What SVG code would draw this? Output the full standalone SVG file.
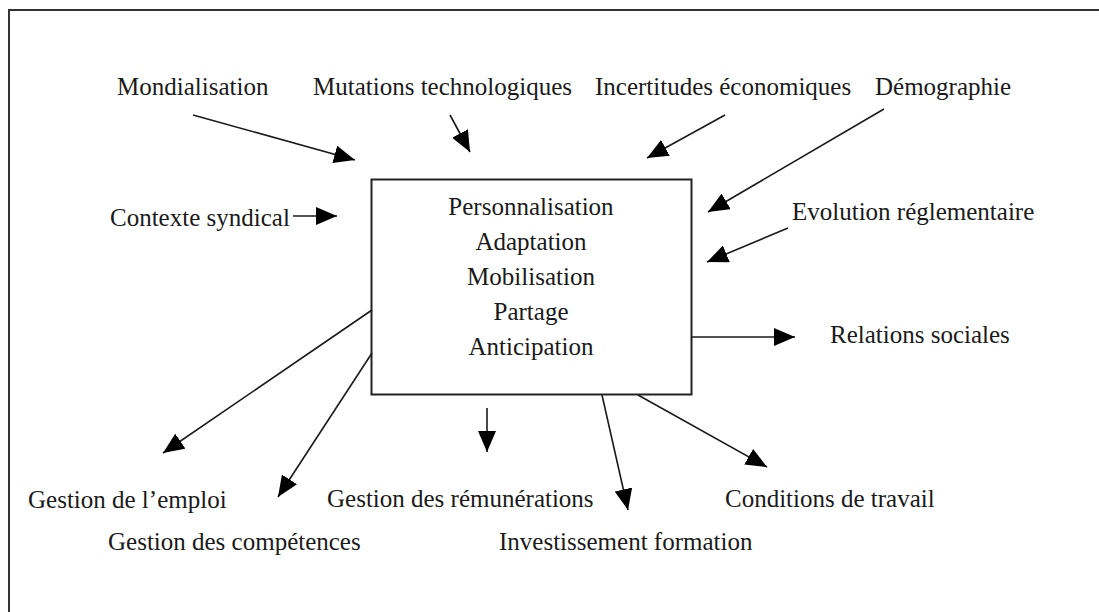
<svg xmlns="http://www.w3.org/2000/svg" width="1099" height="612" viewBox="0 0 1099 612">
<style>
text{font-family:"Liberation Serif","Times New Roman",serif;font-size:25px;fill:#1a1a1a}
.c{text-anchor:middle}
.ln{stroke:#1a1a1a;stroke-width:1.6;fill:none}
.fr{stroke:#333;stroke-width:2;fill:none}
</style>
<defs>
<marker id="ah" markerUnits="userSpaceOnUse" viewBox="0 0 21 18" markerWidth="21" markerHeight="18" refX="21" refY="9" orient="auto">
<path d="M0,0 L21,9 L0,18 z" fill="#000"/>
</marker>
</defs>
<rect width="1099" height="612" fill="#fff"/>
<path class="fr" d="M9,612 V10 H1099"/>
<g id="center">
<rect x="371.5" y="179.5" width="320" height="215" fill="#fff" stroke="#222" stroke-width="2"/>
<text class="c" x="531" y="215">Personnalisation</text>
<text class="c" x="531" y="250">Adaptation</text>
<text class="c" x="531" y="285">Mobilisation</text>
<text class="c" x="531" y="320">Partage</text>
<text class="c" x="531" y="355">Anticipation</text>
</g>
<g id="mondialisation"><text x="117" y="95">Mondialisation</text></g>
<g id="mutations"><text x="313" y="95">Mutations technologiques</text></g>
<g id="incertitudes"><text x="595" y="95">Incertitudes économiques</text></g>
<g id="demographie"><text x="875" y="95">Démographie</text></g>
<g id="contexte"><text x="110" y="226">Contexte syndical</text></g>
<g id="evolution"><text x="792" y="220">Evolution réglementaire</text></g>
<g id="relations"><text x="830" y="343">Relations sociales</text></g>
<g id="emploi"><text x="28" y="508">Gestion de l’emploi</text></g>
<g id="competences"><text x="108" y="550">Gestion des compétences</text></g>
<g id="remunerations"><text x="327" y="507">Gestion des rémunérations</text></g>
<g id="formation"><text x="499" y="550">Investissement formation</text></g>
<g id="conditions"><text x="725" y="507">Conditions de travail</text></g>
<g id="connectors">
<line class="ln" x1="193" y1="115" x2="355" y2="160" marker-end="url(#ah)"/>
<line class="ln" x1="450" y1="115" x2="470" y2="152" marker-end="url(#ah)"/>
<line class="ln" x1="725" y1="115" x2="647" y2="158" marker-end="url(#ah)"/>
<line class="ln" x1="884" y1="109" x2="708" y2="212" marker-end="url(#ah)"/>
<line class="ln" x1="788" y1="228" x2="707" y2="262" marker-end="url(#ah)"/>
<line class="ln" x1="293" y1="216" x2="337" y2="216" marker-end="url(#ah)"/>
<line class="ln" x1="691" y1="337" x2="795" y2="337" marker-end="url(#ah)"/>
<line class="ln" x1="372" y1="310" x2="163" y2="453" marker-end="url(#ah)"/>
<line class="ln" x1="372" y1="353" x2="278" y2="497" marker-end="url(#ah)"/>
<line class="ln" x1="487" y1="408" x2="487" y2="452" marker-end="url(#ah)"/>
<line class="ln" x1="602" y1="395" x2="628" y2="510" marker-end="url(#ah)"/>
<line class="ln" x1="638" y1="395" x2="767" y2="467" marker-end="url(#ah)"/>
</g>
</svg>
